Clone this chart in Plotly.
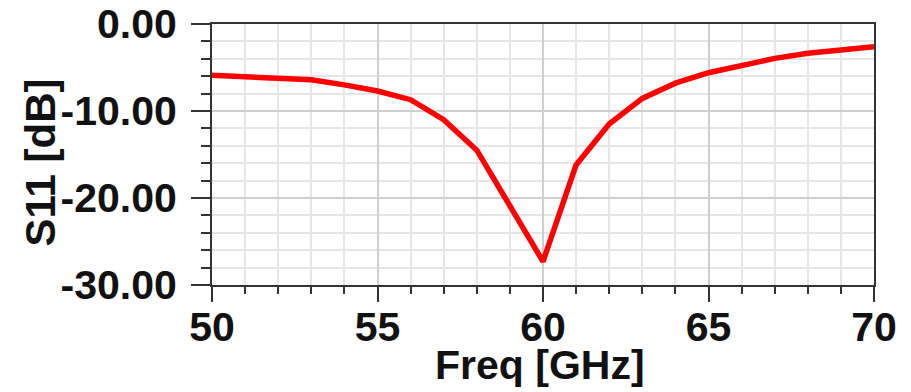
import plotly.graph_objects as go

freq_ghz = [50, 51, 52, 53, 54, 55, 56, 57, 58, 59, 60, 61, 62, 63, 64, 65, 66, 67, 68, 69, 70]
s11_db = [-5.9, -6.05, -6.1, -6.4, -7.0, -7.7, -8.7, -11.0, -14.5, -21.0, -27.3,
          -16.2, -11.5, -8.55, -6.8, -5.6, -4.7, -3.95, -3.37, -3.0, -2.6]

x_tickvals = [50, 55, 60, 65, 70]
x_ticktext = ["50", "55", "60", "65", "70"]
y_tickvals = [0, -10, -20, -30]
y_ticktext = ["0.00", "-10.00", "-20.00", "-30.00"]
x_title = "Freq [GHz]"
y_title = "S11 [dB]"

FONT = "Liberation Sans, Arial, sans-serif"
FS = 41

fig = go.Figure()
fig.add_trace(go.Scatter(x=freq_ghz, y=s11_db, mode="lines",
                         line=dict(color="#ff0000", width=5.5),
                         showlegend=False))

axis_common = dict(
    showline=True, linecolor="#333333", linewidth=2, mirror=True,
    ticks="outside", tickcolor="#333333", tickwidth=2,
    showgrid=True, gridcolor="#cfcfcf", gridwidth=2,
    zeroline=False, ticklabeloverflow="allow",
    tickfont=dict(family=FONT, size=FS, color="#111111", weight="bold"),
)

fig.update_xaxes(
    **axis_common,
    range=[50, 70], tickmode="array", tickvals=x_tickvals, ticktext=x_ticktext,
    ticklen=15, ticklabelstandoff=-10,
    minor=dict(tickmode="linear", tick0=50, dtick=1, ticks="outside", ticklen=7,
               tickwidth=2, tickcolor="#333333", showgrid=True,
               gridcolor="#e6e6e6", gridwidth=2),
)
fig.update_yaxes(
    **axis_common,
    range=[-30, 0], tickmode="array", tickvals=y_tickvals, ticktext=y_ticktext,
    ticklen=19, ticklabelstandoff=6,
    minor=dict(tickmode="linear", tick0=0, dtick=2, ticks="outside", ticklen=9,
               tickwidth=2, tickcolor="#333333", showgrid=True,
               gridcolor="#e6e6e6", gridwidth=2),
)

title_font = dict(family=FONT, size=FS, color="#111111", weight="bold")
fig.add_annotation(text=x_title, xref="paper", yref="paper", x=0.5, y=0,
                   xanchor="center", yanchor="top", xshift=-3, yshift=-55,
                   showarrow=False, font=title_font)
fig.add_annotation(text=y_title, xref="paper", yref="paper", x=0, y=0.5,
                   xanchor="center", yanchor="middle", xshift=-172, yshift=-8,
                   textangle=-90, showarrow=False,
                   font=dict(family=FONT, size=42, color="#111111", weight="bold"))

fig.update_layout(
    width=911, height=392,
    margin=dict(l=204, r=45, t=16, b=115, autoexpand=False),
    paper_bgcolor="white", plot_bgcolor="white",
)

fig.write_html("out.html")
